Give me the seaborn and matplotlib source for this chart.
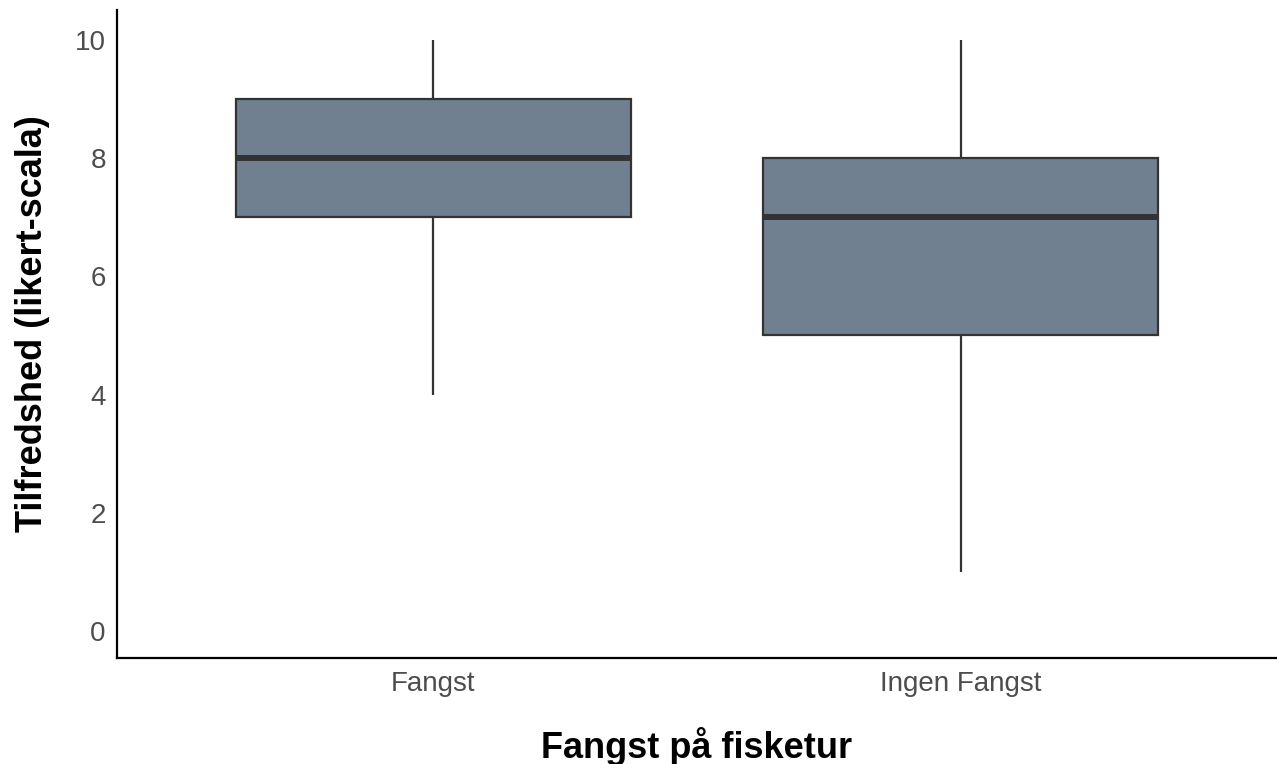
import matplotlib
matplotlib.use("Agg")
import matplotlib.pyplot as plt
import seaborn as sns
import pandas as pd

# Five-number summaries of satisfaction scores per group
groups = ["Fangst", "Ingen Fangst"]
whisker_low = [4, 1]
q1 = [7, 5]
median = [8, 7]
q3 = [9, 8]
whisker_high = [10, 10]

# Small score samples that carry exactly these summaries
rows = []
for g, lo, a, m, b, hi in zip(groups, whisker_low, q1, median, q3, whisker_high):
    for v in [lo, a, a, m, m, m, b, b, hi]:
        rows.append({"gruppe": g, "score": v})
df = pd.DataFrame(rows)

sns.set_style("white")
plt.rcParams["font.family"] = ["Liberation Sans", "DejaVu Sans"]

fig = plt.figure(figsize=(12.77, 7.64), dpi=100)
ax = fig.add_axes([0.0916, 0.1387, 0.9084, 0.8483])

edge = "#333333"
sns.boxplot(
    data=df, x="gruppe", y="score", order=groups, ax=ax,
    color="#708090", saturation=1, width=0.75, whis=1.5,
    showfliers=False, showcaps=False,
    boxprops=dict(edgecolor=edge, linewidth=1.6),
    whiskerprops=dict(color=edge, linewidth=1.6),
    medianprops=dict(color=edge, linewidth=4.3),
)

ax.set_xlim(-0.6, 1.6)
ax.set_ylim(-0.45, 10.5)
ax.set_yticks([0, 2, 4, 6, 8, 10])

for side in ["top", "right"]:
    ax.spines[side].set_visible(False)
for side in ["left", "bottom"]:
    ax.spines[side].set_color("black")
    ax.spines[side].set_linewidth(1.6)

ax.tick_params(axis="both", length=0, labelsize=20, labelcolor="#4D4D4D")
ax.tick_params(axis="y", pad=8)
ax.tick_params(axis="x", pad=9)

ax.set_xlabel("Fangst på fisketur", fontsize=26, fontweight="bold",
              color="black", labelpad=22)
ax.set_ylabel("Tilfredshed (likert-scala)", fontsize=26, fontweight="bold",
              color="black")
ax.yaxis.set_label_coords(-0.058, 0.516)

fig.savefig("out.png", dpi=100, facecolor="white")
